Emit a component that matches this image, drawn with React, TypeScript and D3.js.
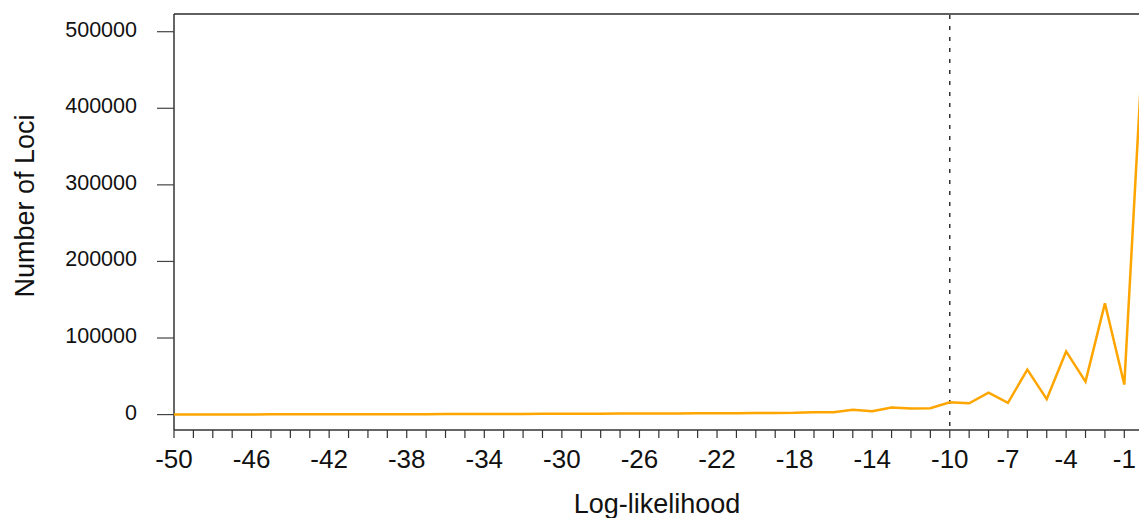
import React from "react";
import * as d3 from "d3";

const logLik: number[] = [
  -50, -49, -48, -47, -46, -45, -44, -43, -42, -41,
  -40, -39, -38, -37, -36, -35, -34, -33, -32, -31,
  -30, -29, -28, -27, -26, -25, -24, -23, -22, -21,
  -20, -19, -18, -17, -16, -15, -14, -13, -12, -11,
  -10, -9, -8, -7, -6, -5, -4, -3, -2, -1, 0,
];

const lociCounts: number[] = [
  200, 210, 230, 250, 270, 300, 320, 350, 380, 410,
  450, 490, 530, 580, 630, 690, 750, 820, 890, 960,
  1040, 1110, 1190, 1270, 1360, 1450, 1550, 1660, 1780, 1900,
  2000, 2200, 2400, 3200, 3000, 6200, 4500, 9300, 8000, 8400,
  16000, 14800, 28700, 15300, 58700, 20200, 82500, 43000, 145300, 39200, 503000,
];

const xTickLabels: number[] = [-50, -46, -42, -38, -34, -30, -26, -22, -18, -14, -10, -7, -4, -1];
const yTickLabels: number[] = [0, 100000, 200000, 300000, 400000, 500000];
const threshold = -10;

const W = 1139;
const H = 518;
const L = 174;
const R = 1143.7;
const T = 14;
const B = 430;

export default function App() {
  const x = d3.scaleLinear().domain([-50, 0]).range([L, R]);
  const yMax = d3.max(lociCounts) as number;
  const pad = yMax * 0.04;
  const y = d3.scaleLinear().domain([-pad, yMax + pad]).range([B, T]);
  const line = d3
    .line<number>()
    .x((_, i) => x(logLik[i]))
    .y((d) => y(d));
  const minorTicks = d3.range(-50, 1, 1);
  const font = "'Liberation Sans', Arial, Helvetica, sans-serif";

  return (
    <svg
      width={W}
      height={H}
      style={{ position: "absolute", left: 0, top: 0, background: "#fff" }}
      fontFamily={font}
    >
      {/* frame */}
      <line x1={L} x2={R} y1={T} y2={T} stroke="#606060" strokeWidth={2} />
      <line x1={L} x2={L} y1={T} y2={B} stroke="#333" strokeWidth={1.5} />
      <line x1={L} x2={R} y1={B} y2={B} stroke="#333" strokeWidth={1.5} />

      {/* threshold */}
      <line
        x1={x(threshold)}
        x2={x(threshold)}
        y1={T + 1}
        y2={B}
        stroke="#333"
        strokeWidth={1.5}
        strokeDasharray="4,7"
      />

      {/* y axis */}
      {yTickLabels.map((v) => (
        <g key={v}>
          <line x1={L - 17} x2={L} y1={y(v)} y2={y(v)} stroke="#444" strokeWidth={1.2} />
          <text x={137} y={y(v) + 5} textAnchor="end" fontSize={21.5} fill="#111">
            {v}
          </text>
        </g>
      ))}

      {/* x axis */}
      {minorTicks.map((v) => (
        <line key={v} x1={x(v)} x2={x(v)} y1={B} y2={B + 8} stroke="#333" strokeWidth={1.2} />
      ))}
      {xTickLabels.map((v) => (
        <text key={v} x={x(v)} y={468} textAnchor="middle" fontSize={26} fill="#111">
          {v}
        </text>
      ))}

      {/* series */}
      <path d={line(lociCounts) || ""} fill="none" stroke="#FFA500" strokeWidth={2.5} strokeLinejoin="miter" />

      {/* titles */}
      <text x={657} y={513} textAnchor="middle" fontSize={27} fill="#111">
        Log-likelihood
      </text>
      <text
        transform={`translate(33.5,206) rotate(-90)`}
        textAnchor="middle"
        fontSize={27}
        fill="#111"
      >
        Number of Loci
      </text>
    </svg>
  );
}
